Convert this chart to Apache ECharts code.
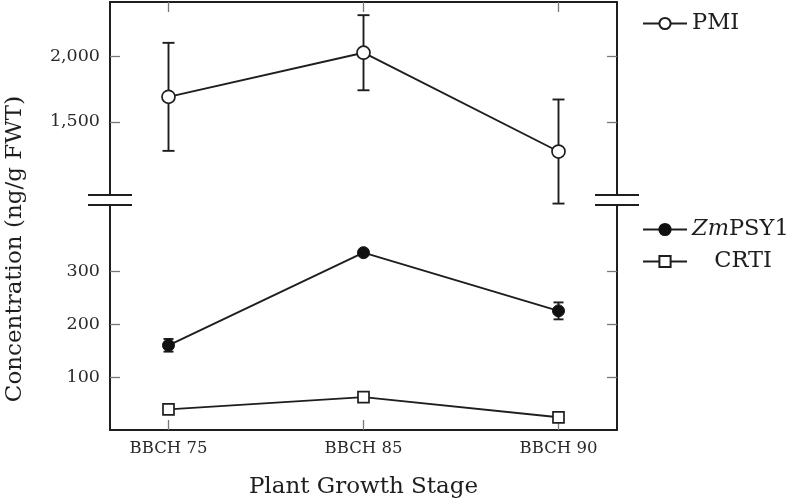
<!DOCTYPE html>
<html><head><meta charset="utf-8">
<script src="https://cdn.jsdelivr.net/npm/echarts@6/dist/echarts.min.js"></script>
<style>html,body{margin:0;padding:0;background:#fff}#c{width:795px;height:503px}</style>
</head><body><div id="c"></div>
<script>
const categories = ['BBCH 75', 'BBCH 85', 'BBCH 90'];
const pmi = [1690, 2025, 1275];
const pmiErr = [410, 285, 395];
const psy = [160, 335, 225];
const psyErr = [12, 5, 16];
const crti = [39, 62, 24];
const upperTicks = [1500, 2000];
const lowerTicks = [100, 200, 300];

const FONT = 'DejaVu Serif';
const INK = '#1e1e1e';
const chart = echarts.init(document.getElementById('c'));

function pts(vals){ return vals.map((v,i)=>[i,v]); }
function errData(vals, errs){ return vals.map((v,i)=>[i, v-errs[i], v+errs[i]]); }
function errSeries(name, xi, yi, data, cap){
  return {
    type:'custom', name:name, xAxisIndex:xi, yAxisIndex:yi, z:1, clip:false, silent:true,
    data:data,
    renderItem:function(params, api){
      const lo = api.coord([api.value(0), api.value(1)]);
      const hi = api.coord([api.value(0), api.value(2)]);
      const st = {stroke:INK, lineWidth:1.9};
      return {type:'group', children:[
        {type:'line', shape:{x1:lo[0],y1:lo[1],x2:hi[0],y2:hi[1]}, style:st},
        {type:'line', shape:{x1:lo[0]-cap,y1:lo[1],x2:lo[0]+cap,y2:lo[1]}, style:st},
        {type:'line', shape:{x1:hi[0]-cap,y1:hi[1],x2:hi[0]+cap,y2:hi[1]}, style:st}
      ]};
    }
  };
}

const axLine = {show:true, onZero:false, lineStyle:{color:INK, width:2}};
const tickStyle = {lineStyle:{color:'#777', width:1.3}};
const yLabel = {color:'#2a2a2a', fontFamily:FONT, fontSize:17.5, margin:10,
  formatter:v=>Number(v).toLocaleString('en-US')};

const option = {
  animation:false,
  backgroundColor:'#fff',
  grid:[
    {left:110, right:178, top:2, height:193},
    {left:110, right:178, top:205, bottom:73}
  ],
  xAxis:[
    {type:'value', gridIndex:0, position:'top', min:-0.3, max:2.3,
     axisLine:axLine, splitLine:{show:false}, axisLabel:{show:false},
     axisTick:Object.assign({show:true, inside:true, length:10, customValues:[0,1,2]}, tickStyle)},
    {type:'value', gridIndex:1, position:'bottom', min:-0.3, max:2.3,
     axisLine:axLine, splitLine:{show:false},
     axisTick:Object.assign({show:true, inside:true, length:10, customValues:[0,1,2]}, tickStyle),
     axisLabel:{show:true, customValues:[0,1,2], formatter:v=>categories[Math.round(v)],
       color:'#2a2a2a', fontFamily:FONT, fontSize:16.5, margin:10},
     name:'Plant Growth Stage', nameLocation:'middle', nameGap:46,
     nameTextStyle:{color:INK, fontFamily:FONT, fontSize:23}}
  ],
  yAxis:[
    {type:'value', gridIndex:0, position:'left', min:945, max:2410,
     axisLine:axLine, splitLine:{show:false},
     axisTick:Object.assign({show:true, inside:true, length:10, customValues:upperTicks}, tickStyle),
     axisLabel:Object.assign({customValues:upperTicks}, yLabel)},
    {type:'value', gridIndex:0, position:'right', min:945, max:2410,
     axisLine:axLine, splitLine:{show:false}, axisLabel:{show:false},
     axisTick:Object.assign({show:true, inside:true, length:10, customValues:upperTicks}, tickStyle)},
    {type:'value', gridIndex:1, position:'left', min:0, max:425,
     axisLine:axLine, splitLine:{show:false},
     axisTick:Object.assign({show:true, inside:true, length:10, customValues:lowerTicks}, tickStyle),
     axisLabel:Object.assign({customValues:lowerTicks}, yLabel)},
    {type:'value', gridIndex:1, position:'right', min:0, max:425,
     axisLine:axLine, splitLine:{show:false}, axisLabel:{show:false},
     axisTick:Object.assign({show:true, inside:true, length:10, customValues:lowerTicks}, tickStyle)}
  ],
  legend:[
    {data:['PMI'], left:642, top:12, padding:0, itemWidth:44, itemHeight:14, itemGap:8,
     textStyle:{color:INK, fontFamily:FONT, fontSize:22.5}},
    {data:['ZmPSY1','CRTI'], left:642, top:218, padding:0, orient:'vertical', itemWidth:44, itemHeight:14, itemGap:9,
     formatter:n=> n==='ZmPSY1' ? '{i|Zm}{n|PSY1}' : '{c|CRTI}',
     textStyle:{color:INK, fontFamily:FONT, fontSize:22.5,
       rich:{i:{fontStyle:'italic', fontFamily:FONT, fontSize:22.5, color:INK},
             n:{fontFamily:FONT, fontSize:22.5, color:INK},
             c:{fontFamily:FONT, fontSize:22.5, color:INK, width:102, align:'center'}}}}
  ],
  graphic:[
    {type:'text', rotation:Math.PI/2, position:[15,249],
     style:{text:'Concentration (ng/g FWT)', font:'23px "DejaVu Serif"', fill:INK, align:'center', verticalAlign:'middle'}},
    {type:'line', shape:{x1:88,y1:195,x2:132,y2:195}, style:{stroke:INK, lineWidth:2}, z:10},
    {type:'line', shape:{x1:88,y1:205,x2:132,y2:205}, style:{stroke:INK, lineWidth:2}, z:10},
    {type:'line', shape:{x1:595,y1:195,x2:639,y2:195}, style:{stroke:INK, lineWidth:2}, z:10},
    {type:'line', shape:{x1:595,y1:205,x2:639,y2:205}, style:{stroke:INK, lineWidth:2}, z:10}
  ],
  series:[
    errSeries('pmiErr', 0, 0, errData(pmi, pmiErr), 6),
    errSeries('psyErr', 1, 2, errData(psy, psyErr), 5),
    {type:'line', name:'PMI', xAxisIndex:0, yAxisIndex:0, data:pts(pmi), z:3,
     symbol:'circle', symbolSize:13, showAllSymbol:true,
     lineStyle:{color:INK, width:1.9},
     itemStyle:{color:'#fff', borderColor:INK, borderWidth:1.7}},
    {type:'line', name:'ZmPSY1', xAxisIndex:1, yAxisIndex:2, data:pts(psy), z:3,
     symbol:'circle', symbolSize:12,
     lineStyle:{color:INK, width:1.9},
     itemStyle:{color:'#111', borderColor:'#111', borderWidth:1}},
    {type:'line', name:'CRTI', xAxisIndex:1, yAxisIndex:2, data:pts(crti), z:3,
     symbol:'rect', symbolSize:11,
     lineStyle:{color:INK, width:1.9},
     itemStyle:{color:'#fff', borderColor:INK, borderWidth:1.7}}
  ]
};
chart.setOption(option);
</script></body></html>
